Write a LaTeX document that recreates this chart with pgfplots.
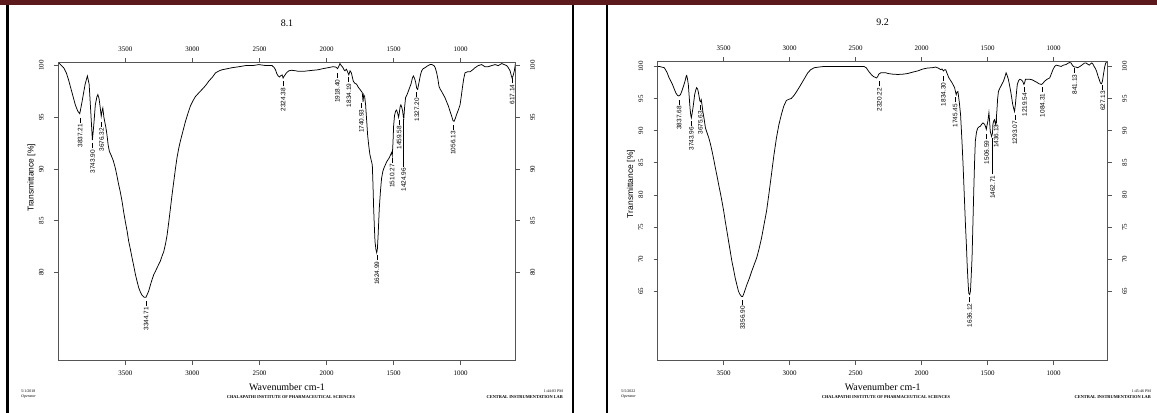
\documentclass[border=0pt]{standalone}
\usepackage{fontspec}
\setmainfont{Liberation Serif}
\newfontfamily\sansf{Liberation Sans}
\usepackage{pgfplots}
\pgfplotsset{compat=1.18}
\definecolor{barred}{RGB}{92,26,28}
\definecolor{framegray}{RGB}{85,85,85}
\newcommand{\pkf}{\sansf\fontsize{6.5}{7}\selectfont}
\newcommand{\pk}[4][5bp]{\node[rotate=90,anchor=east,inner sep=0pt,font=\pkf] at (axis cs:#2,#3) {#4\hspace{1.5bp}\rule[0.33em]{#1}{0.45bp}};}
\pgfplotsset{
 irbase/.style={
  scale only axis, x dir=reverse, xmin=590, xmax=4000,
  xtick={1000,1500,2000,2500,3000,3500},
  tick align=outside, major tick length=4bp,
  axis line style={framegray, line width=0.8bp},
  tick style={framegray, line width=0.7bp},
  /pgf/number format/1000 sep={},
  /pgf/number format/assume math mode=true,
  ticklabel style={font=\fontsize{7}{8}\selectfont},
  xticklabel shift=3bp,
  yticklabel shift=7bp,
 },
 irmain/.style={irbase,
  xtick pos=bottom, ytick pos=left,
  yticklabel style={rotate=90, anchor=south},
  xlabel={Wavenumber cm-1},
  xlabel style={at={(axis description cs:0.5,0)}, anchor=center, yshift=-26bp, font=\fontsize{10}{11}\selectfont},
  ylabel={Transmittance [\%]},
  title style={at={(axis description cs:0.5,1)}, anchor=center, yshift=33bp, font=\fontsize{10}{11}\selectfont},
 },
 irtop/.style={irbase,
  xtick pos=top, ytick pos=right, xticklabel pos=upper, yticklabel pos=right,
  yticklabel style={rotate=90, anchor=north},
 },
}
\begin{document}
\begin{tikzpicture}
\useasboundingbox (0bp,0bp) rectangle (1157bp,413bp);
\fill[white] (0bp,0bp) rectangle (1157bp,413bp);
\fill[barred] (0bp,408bp) rectangle (1157bp,413bp);
\draw[black, line width=2.2bp] (7.5bp,408bp) -- (7.5bp,0bp);
\draw[black, line width=2.2bp] (573bp,408bp) -- (573bp,0bp);
\draw[black, line width=2.2bp] (607bp,408bp) -- (607bp,0bp);

% ---------- left panel 8.1 ----------
\begin{axis}[irmain, at={(58.3bp,52.3bp)}, anchor=south west, width=457.4bp, height=298.7bp,
  ymin=71.46, ymax=100.35, ytick={80,85,90,95,100}, title={8.1},
  ylabel style={at={(axis description cs:-0.0586,0.612)}, anchor=center, font=\sansf\fontsize{8.5}{9}\selectfont}]
\addplot[black, line width=0.75bp] coordinates {
(4000,100.2)(3992,100.2)(3960,99.8)(3940,99.3)(3923,98.6)(3898,97.4)(3873,96.2)(3855,95.6)(3840,95.35)(3823,96.5)
(3800,98.2)(3783,99.0)(3770,98.2)(3760,96.0)(3752,94.2)(3746,92.8)(3740,93.6)(3734,94.5)(3724,96.2)(3712,97.0)
(3705,97.2)(3696,96.8)(3688,96.0)(3680,95.1)(3674,95.6)(3668,95.9)(3660,95.0)(3654,94.6)(3645,94.0)(3637,93.3)
(3628,92.3)(3619,91.7)(3605,91.3)(3590,90.8)(3575,90.1)(3562,89.3)(3550,88.5)(3538,87.8)(3525,86.9)(3512,85.8)
(3500,84.9)(3487,84.0)(3475,83.0)(3462,82.2)(3450,81.4)(3437,80.6)(3425,79.8)(3412,79.1)(3400,78.5)(3388,78.1)
(3376,77.8)(3360,77.6)(3346,77.6)(3336,77.9)(3326,78.2)(3313,78.8)(3301,79.3)(3288,79.8)(3276,80.1)(3258,80.6)
(3239,81.1)(3226,81.6)(3214,82.0)(3200,82.8)(3189,83.6)(3176,84.9)(3164,86.2)(3152,87.5)(3139,88.8)(3127,90.0)
(3115,91.1)(3102,92.0)(3090,92.7)(3070,93.7)(3052,94.6)(3033,95.4)(3015,96.1)(2996,96.6)(2978,97.0)(2950,97.4)
(2928,97.7)(2900,98.1)(2878,98.5)(2850,98.9)(2828,99.3)(2800,99.5)(2779,99.6)(2740,99.7)(2704,99.8)(2650,99.9)
(2605,100.0)(2550,100.0)(2505,100.1)(2450,100.0)(2406,100.0)(2390,99.8)(2381,99.6)(2370,99.2)(2361,99.0)(2350,98.9)
(2344,99.0)(2331,99.1)(2324,98.8)(2315,99.0)(2299,99.3)(2281,99.5)(2260,99.55)(2230,99.5)(2211,99.45)(2170,99.45)
(2137,99.5)(2100,99.55)(2062,99.6)(2030,99.7)(1988,99.8)(1950,99.9)(1930,99.85)(1918,99.7)(1910,99.9)(1900,100.2)
(1890,100.0)(1880,99.85)(1870,99.6)(1863,99.5)(1852,99.65)(1840,99.3)(1834,99.1)(1825,99.5)(1815,99.3)(1808,98.9)
(1801,98.5)(1790,98.3)(1776,98.2)(1763,97.9)(1751,97.7)(1740,97.5)(1734,97.4)(1728,96.5)(1723,97.2)(1716,97.0)
(1709,96.2)(1700,94.5)(1694,93.3)(1685,92.2)(1677,91.4)(1668,90.9)(1659,90.4)(1654,88.5)(1649,86.2)(1644,84.5)
(1639,83.0)(1632,82.2)(1626,81.9)(1621,82.3)(1616,83.5)(1611,85.0)(1607,86.2)(1598,87.9)(1590,89.1)(1580,89.8)
(1572,90.1)(1562,90.4)(1552,90.7)(1542,90.9)(1532,91.1)(1522,91.4)(1515,91.6)(1510,91.3)(1505,92.5)(1500,94.2)
(1493,95.2)(1485,95.6)(1478,95.7)(1470,95.4)(1463,95.0)(1458,95.4)(1452,96.0)(1446,96.2)(1440,96.0)(1433,95.6)
(1427,95.0)(1424,94.9)(1418,96.0)(1411,96.9)(1400,97.2)(1391,97.5)(1380,97.9)(1371,98.2)(1360,98.8)(1353,99.0)
(1345,98.8)(1336,98.4)(1328,97.8)(1321,97.7)(1315,98.1)(1309,98.5)(1300,99.1)(1291,99.5)(1280,99.7)(1266,99.8)
(1250,99.95)(1229,100.1)(1215,100.1)(1199,100.0)(1190,99.8)(1179,99.3)(1170,98.7)(1162,98.0)(1152,97.7)(1142,97.5)
(1130,97.2)(1117,96.9)(1105,96.5)(1092,96.1)(1080,95.6)(1067,95.1)(1058,94.7)(1050,94.6)(1040,94.9)(1030,95.3)
(1018,95.7)(1005,96.2)(996,97.0)(988,97.8)(978,98.7)(968,99.3)(950,99.4)(931,99.4)(910,99.6)(893,99.8)
(870,100.0)(844,100.1)(820,99.9)(794,99.9)(770,100.0)(744,100.1)(720,100.0)(694,100.2)(675,100.1)(657,100.0)
(645,99.8)(632,99.5)(622,99.0)(617,98.8)(610,99.0)(600,99.5)(592,100.2)
};
\pk{3837.21}{95.0}{3837.21}
\pk{3743.90}{92.5}{3743.90}
\pk{3676.32}{94.6}{3676.32}
\pk{3344.71}{77.3}{3344.71}
\pk{2324.38}{98.5}{2324.38}
\pk{1918.40}{99.3}{1918.40}
\pk{1834.19}{98.9}{1834.19}
\pk{1740.93}{96.4}{1740.93}
\pk{1624.99}{81.7}{1624.99}
\pk{1510.27}{91.1}{1510.27}
\pk{1459.58}{94.8}{1459.58}
\pk[48bp]{1424.96}{94.9}{1424.96}
\pk{1327.20}{97.5}{1327.20}
\pk{1056.13}{94.3}{1056.13}
\pk{617.14}{98.8}{617.14}
\end{axis}
\begin{axis}[irtop, at={(58.3bp,52.3bp)}, anchor=south west, width=457.4bp, height=298.7bp,
  ymin=71.46, ymax=100.35, ytick={80,85,90,95,100}]
\end{axis}

% ---------- right panel 9.2 ----------
\begin{axis}[irmain, at={(657.7bp,52.3bp)}, anchor=south west, width=450bp, height=299.4bp,
  ymin=54.2, ymax=100.8, ytick={65,70,75,80,85,90,95,100}, title={9.2},
  ylabel style={at={(axis description cs:-0.0593,0.59)}, anchor=center, font=\sansf\fontsize{8.5}{9}\selectfont}]
\addplot[black, line width=0.75bp] coordinates {
(4000,100.0)(3988,100.0)(3970,99.9)(3950,99.8)(3930,99.1)(3913,98.2)(3900,97.7)(3888,97.2)(3875,96.5)(3863,95.9)
(3850,95.5)(3840,95.4)(3828,95.6)(3818,96.1)(3805,96.9)(3793,97.7)(3784,98.5)(3780,98.6)(3774,98.0)(3768,97.2)
(3762,95.5)(3755,93.5)(3750,92.5)(3745,92.0)(3740,92.6)(3733,93.5)(3726,94.6)(3720,95.6)(3712,96.3)(3705,96.7)
(3698,96.5)(3693,96.1)(3686,95.3)(3680,94.6)(3675,94.5)(3670,94.8)(3664,94.0)(3658,93.0)(3648,91.8)(3638,90.4)
(3625,89.6)(3613,88.9)(3600,87.9)(3588,86.8)(3575,85.5)(3563,84.2)(3550,82.9)(3538,81.6)(3525,80.3)(3513,79.0)
(3500,77.5)(3488,75.9)(3475,74.3)(3463,72.8)(3450,71.2)(3438,69.7)(3425,68.4)(3413,67.1)(3400,66.0)(3388,65.0)
(3376,64.5)(3365,64.2)(3356,64.2)(3350,64.5)(3338,65.2)(3325,66.0)(3306,67.0)(3288,68.1)(3270,69.1)(3250,70.2)
(3232,71.6)(3213,73.3)(3195,75.3)(3175,77.5)(3157,80.2)(3138,83.2)(3120,86.1)(3100,88.9)(3082,90.9)(3063,92.5)
(3045,93.8)(3025,94.7)(3005,94.9)(2988,95.0)(2975,95.3)(2963,95.6)(2950,96.0)(2938,96.4)(2920,97.0)(2900,97.7)
(2880,98.4)(2863,99.0)(2840,99.5)(2813,99.8)(2780,99.9)(2738,100.0)(2680,100.0)(2613,100.0)(2550,100.0)(2490,100.0)
(2438,100.0)(2420,99.8)(2400,99.2)(2380,98.7)(2363,98.4)(2350,98.3)(2343,98.2)(2333,98.4)(2325,98.8)(2310,99.0)
(2288,99.0)(2270,99.0)(2255,98.9)(2220,98.8)(2180,98.75)(2140,98.8)(2105,98.9)(2070,99.1)(2030,99.3)(1990,99.6)
(1955,99.75)(1920,99.8)(1893,99.9)(1870,99.7)(1855,99.5)(1845,99.6)(1835,99.3)(1825,99.5)(1818,99.5)(1805,98.8)
(1793,98.2)(1780,97.8)(1768,97.4)(1758,97.0)(1750,96.7)(1743,96.0)(1738,95.6)(1732,96.0)(1725,96.1)(1715,94.5)
(1705,92.5)(1699,90.2)(1693,87.8)(1686,84.7)(1680,81.6)(1674,78.5)(1668,75.4)(1661,72.3)(1655,69.2)(1649,66.7)
(1643,64.7)(1636,64.5)(1630,65.0)(1624,67.5)(1618,70.2)(1612,75.0)(1605,80.6)(1599,85.0)(1593,88.4)(1584,89.8)
(1575,90.4)(1565,90.6)(1555,90.7)(1545,91.0)(1535,91.2)(1523,91.0)(1515,90.6)(1510,90.2)(1504,90.9)(1498,91.5)
(1490,92.8)(1485,91.5)(1480,89.9)(1470,89.1)(1463,89.6)(1460,91.0)(1454,91.5)(1448,91.7)(1443,91.2)(1438,90.9)
(1430,93.0)(1424,95.0)(1418,96.1)(1408,96.6)(1400,96.9)(1390,97.3)(1380,97.7)(1370,98.3)(1360,99.0)(1352,98.6)
(1343,98.0)(1335,97.2)(1325,96.1)(1318,95.2)(1310,94.1)(1303,93.5)(1296,93.0)(1290,94.0)(1285,95.1)(1280,96.2)
(1275,97.2)(1265,97.8)(1255,98.0)(1245,97.9)(1235,97.7)(1225,97.2)(1219,97.5)(1213,98.0)(1200,98.0)(1180,98.0)
(1160,97.9)(1143,97.7)(1125,97.5)(1110,97.3)(1093,97.2)(1084,97.3)(1068,97.7)(1050,98.0)(1030,98.2)(1018,98.8)
(1005,99.5)(992,100.0)(980,100.2)(962,100.1)(943,100.0)(925,100.2)(905,100.3)(890,100.5)(880,100.6)(868,100.55)
(858,100.2)(850,100.0)(841,99.9)(830,99.9)(818,99.8)(800,100.0)(780,100.3)(768,100.5)(755,100.55)(745,100.4)
(730,100.2)(720,100.4)(710,100.55)(700,100.3)(693,100.0)(684,99.7)(675,99.3)(665,98.6)(655,98.0)(645,97.4)
(637,97.3)(630,97.7)(624,98.5)(618,99.3)(612,100.0)(605,100.55)(597,100.6)
};
\pk{3837.68}{94.85}{3837.68}
\pk{3743.96}{91.6}{3743.96}
\pk{3675.63}{94.1}{3675.63}
\pk{3356.90}{63.7}{3356.90}
\pk{2320.22}{97.7}{2320.22}
\pk{1834.30}{98.5}{1834.30}
\pk{1745.45}{95.2}{1745.45}
\pk{1636.12}{64.1}{1636.12}
\pk{1506.59}{89.5}{1506.59}
\pk[36bp]{1462.71}{88.9}{1462.71}
\pk{1436.13}{92.0}{1436.13}
\pk{1293.07}{92.5}{1293.07}
\pk{1219.54}{96.9}{1219.54}
\pk{1084.31}{96.8}{1084.31}
\pk{841.13}{99.8}{841.13}
\pk{627.13}{97.2}{627.13}
\end{axis}
\begin{axis}[irtop, at={(657.7bp,52.3bp)}, anchor=south west, width=450bp, height=299.4bp,
  ymin=54.2, ymax=100.8, ytick={65,70,75,80,85,90,95,100}]
\end{axis}

% ---------- footers ----------
\begin{scope}[every node/.style={inner sep=0pt}]
\node[anchor=west, font=\fontsize{4}{4.5}\selectfont] at (21bp,22bp) {5/1/2018};
\node[anchor=west, font=\itshape\fontsize{4}{4.5}\selectfont] at (21bp,16bp) {Operator};
\node[anchor=center, font=\bfseries\fontsize{4.4}{5}\selectfont] at (291bp,16bp) {CHALAPATHI INSTITUTE OF PHARMACEUTICAL SCIENCES};
\node[anchor=east, font=\fontsize{4}{4.5}\selectfont] at (563bp,22bp) {1:44:03 PM};
\node[anchor=east, font=\bfseries\fontsize{4.4}{5}\selectfont] at (563bp,16bp) {CENTRAL INSTRUMENTATION LAB};
\node[anchor=west, font=\fontsize{4}{4.5}\selectfont] at (621bp,22bp) {5/5/2022};
\node[anchor=west, font=\itshape\fontsize{4}{4.5}\selectfont] at (621bp,16bp) {Operator};
\node[anchor=center, font=\bfseries\fontsize{4.4}{5}\selectfont] at (886bp,16bp) {CHALAPATHI INSTITUTE OF PHARMACEUTICAL SCIENCES};
\node[anchor=east, font=\fontsize{4}{4.5}\selectfont] at (1151bp,22bp) {1:45:46 PM};
\node[anchor=east, font=\bfseries\fontsize{4.4}{5}\selectfont] at (1151bp,16bp) {CENTRAL INSTRUMENTATION LAB};
\end{scope}
\end{tikzpicture}
\end{document}
